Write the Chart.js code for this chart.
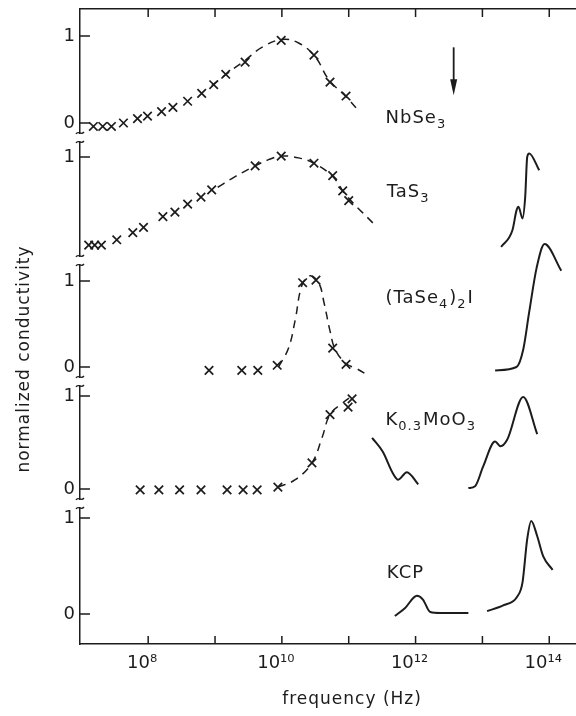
<!DOCTYPE html>
<html>
<head>
<meta charset="utf-8">
<script src="https://cdn.jsdelivr.net/npm/chart.js@4.4.1/dist/chart.umd.min.js"></script>
<style>
  html, body { margin: 0; padding: 0; background: #fff; }
  #wrap { width: 576px; height: 716px; position: relative; }
</style>
</head>
<body>
<div id="wrap"><canvas id="cdwChart"></canvas></div>
<script>
// x values are log10(frequency / Hz), y values are normalized conductivity

// NbSe3
const nbse3Freq = [7.18, 7.32, 7.45, 7.63, 7.84, 7.99, 8.20, 8.37, 8.59, 8.80, 8.98, 9.16, 9.45, 9.99, 10.48, 10.72, 10.96];
const nbse3Cond = [-0.04, -0.04, -0.04, 0.0, 0.05, 0.08, 0.13, 0.18, 0.25, 0.34, 0.44, 0.56, 0.70, 0.95, 0.78, 0.47, 0.31];
const nbse3FitFreq = [8.95, 9.2, 9.45, 9.7, 10.0, 10.25, 10.5, 10.7, 10.95, 11.14];
const nbse3FitCond = [0.43, 0.58, 0.72, 0.87, 0.96, 0.92, 0.76, 0.50, 0.31, 0.15];

// TaS3
const tas3Freq = [7.11, 7.20, 7.30, 7.53, 7.77, 7.93, 8.22, 8.40, 8.59, 8.79, 8.95, 9.60, 9.99, 10.48, 10.76, 10.91, 11.00];
const tas3Cond = [0.01, 0.01, 0.01, 0.07, 0.15, 0.21, 0.33, 0.38, 0.47, 0.55, 0.63, 0.90, 1.01, 0.93, 0.79, 0.62, 0.51];
const tas3FitFreq = [9.04, 9.3, 9.6, 9.8, 9.99, 10.25, 10.48, 10.76, 10.96, 11.36];
const tas3FitCond = [0.66, 0.78, 0.90, 0.97, 1.01, 0.99, 0.93, 0.78, 0.57, 0.26];
const tas3IrFreq = [13.28, 13.45, 13.51, 13.54, 13.60, 13.64, 13.67, 13.70, 13.85];
const tas3IrCond = [-0.01, 0.18, 0.40, 0.44, 0.31, 0.55, 1.00, 1.04, 0.85];

// (TaSe4)2I
const tase4Freq = [8.91, 9.40, 9.64, 9.93, 10.31, 10.51, 10.76, 10.96];
const tase4Cond = [-0.04, -0.04, -0.04, 0.02, 0.98, 1.01, 0.22, 0.03];
const tase4FitFreq = [9.95, 10.1, 10.2, 10.3, 10.42, 10.55, 10.63, 10.72, 10.8, 10.96, 11.12, 11.3];
const tase4FitCond = [0.0, 0.22, 0.55, 0.95, 1.06, 0.98, 0.75, 0.42, 0.2, 0.04, -0.02, -0.1];
const tase4IrFreq = [13.19, 13.51, 13.61, 13.70, 13.81, 13.93, 14.18];
const tase4IrCond = [-0.04, 0.0, 0.2, 0.64, 1.15, 1.43, 1.12];

// K0.3MoO3
const kmoo3Freq = [7.88, 8.16, 8.47, 8.79, 9.18, 9.42, 9.63, 9.94, 10.45, 10.72, 10.99, 11.05];
const kmoo3Cond = [-0.01, -0.01, -0.01, -0.01, -0.01, -0.01, -0.01, 0.02, 0.28, 0.80, 0.88, 0.97];
const kmoo3FitFreq = [9.94, 10.2, 10.45, 10.6, 10.72, 10.9, 11.05];
const kmoo3FitCond = [0.02, 0.1, 0.28, 0.55, 0.80, 0.92, 1.0];
const kmoo3FarFreq = [11.35, 11.51, 11.66, 11.74, 11.87, 12.04];
const kmoo3FarCond = [0.55, 0.40, 0.17, 0.10, 0.18, 0.05];
const kmoo3IrFreq = [12.79, 12.89, 13.01, 13.19, 13.27, 13.37, 13.61, 13.82];
const kmoo3IrCond = [0.01, 0.03, 0.24, 0.51, 0.46, 0.53, 0.99, 0.59];

// KCP
const kcpFarFreq = [11.69, 11.84, 12.02, 12.11, 12.22, 12.37, 12.79];
const kcpFarCond = [-0.02, 0.06, 0.19, 0.15, 0.02, 0.01, 0.01];
const kcpIrFreq = [13.07, 13.31, 13.52, 13.60, 13.67, 13.73, 13.82, 13.91, 14.05];
const kcpIrCond = [0.03, 0.09, 0.18, 0.33, 0.78, 0.97, 0.81, 0.60, 0.46];

const panelNames = ["NbSe_3", "TaS_3", "(TaSe_4)_2I", "K_{0.3}MoO_3", "KCP"];

const xTickValues = [8, 9, 10, 11, 12, 13, 14];
const xTickLabels = ["10⁸", "", "10¹⁰", "", "10¹²", "", "10¹⁴"];

const yTickPanel = [0, 0, 1, 2, 2, 3, 3, 4, 4];
const yTickValue = [1, 0, 1, 1, 0, 1, 0, 1, 0];
const yTickLabels = ["1", "0", "1", "1", "0", "1", "0", "1", "0"];

// layout of the stacked panels on the shared y axis (0..635)
const panels = [
  { base: 521, unit: 87 },
  { base: 398, unit: 89 },
  { base: 277, unit: 86 },
  { base: 155, unit: 93 },
  { base: 30, unit: 96 }
];
const labelPos = [[11.55, 0.0], [11.57, 0.55], [11.55, 0.74], [11.55, 0.69], [11.57, 0.375]];

const INK = "#1c1c1c";
const FONT = "'DejaVu Sans', sans-serif";

function pts(xs, vs, p) {
  return xs.map((x, i) => ({ x: x, y: panels[p].base + vs[i] * panels[p].unit }));
}

function crosses(xs, vs, p) {
  return {
    data: pts(xs, vs, p), showLine: false, pointStyle: "crossRot",
    pointRadius: 6, pointBorderWidth: 1.7, borderColor: INK, backgroundColor: INK
  };
}
function dashed(xs, vs, p) {
  return {
    data: pts(xs, vs, p), showLine: true, pointRadius: 0, borderColor: INK,
    borderWidth: 1.5, borderDash: [8, 6], tension: 0.4
  };
}
function solid(xs, vs, p) {
  return {
    data: pts(xs, vs, p), showLine: true, pointRadius: 0, borderColor: INK,
    borderWidth: 2, cubicInterpolationMode: "monotone"
  };
}

function drawRich(ctx, text, x, y, size) {
  const re = /_\{([^}]*)\}|_(.)|([^_]+)/g;
  let m;
  ctx.textAlign = "left";
  ctx.textBaseline = "alphabetic";
  while ((m = re.exec(text)) !== null) {
    if (m[3]) {
      ctx.font = size + "px " + FONT;
      ctx.fillText(m[3], x, y);
      x += ctx.measureText(m[3]).width;
    } else {
      const s = m[1] || m[2];
      ctx.font = Math.round(size * 0.72) + "px " + FONT;
      ctx.fillText(s, x, y + size * 0.28);
      x += ctx.measureText(s).width + 1;
    }
  }
}

const decor = {
  id: "decor",
  afterDraw(chart) {
    const { ctx, chartArea: a, scales } = chart;
    const xs = scales.x, ys = scales.y;
    ctx.save();
    ctx.strokeStyle = INK;
    ctx.fillStyle = INK;
    ctx.lineWidth = 1.5;

    // inward ticks
    ctx.beginPath();
    xs.ticks.forEach(t => {
      const px = xs.getPixelForValue(t.value);
      ctx.moveTo(px, a.bottom); ctx.lineTo(px, a.bottom - 8);
      ctx.moveTo(px, a.top); ctx.lineTo(px, a.top + 8);
    });
    ys.ticks.forEach(t => {
      const py = ys.getPixelForValue(t.value);
      ctx.moveTo(a.left, py); ctx.lineTo(a.left + 10, py);
    });
    ctx.stroke();

    // axis breaks between panels
    for (let p = 0; p < 4; p++) {
      const y1 = ys.getPixelForValue(panels[p].base - 10);
      const y2 = ys.getPixelForValue(panels[p].base - 19);
      ctx.fillStyle = "#fff";
      ctx.fillRect(a.left - 3, y1 + 1, 6, y2 - y1 - 2);
      ctx.fillStyle = INK;
      ctx.lineWidth = 1.3;
      [y1, y2].forEach(yy => {
        ctx.beginPath();
        ctx.moveTo(a.left - 4, yy + 1);
        ctx.bezierCurveTo(a.left - 2, yy - 3, a.left + 1, yy + 3, a.left + 4, yy - 1);
        ctx.stroke();
      });
    }

    // compound labels
    ctx.fillStyle = INK;
    if ("letterSpacing" in ctx) ctx.letterSpacing = "1px";
    panelNames.forEach((name, p) => {
      const px = xs.getPixelForValue(labelPos[p][0]);
      const py = ys.getPixelForValue(panels[p].base + labelPos[p][1] * panels[p].unit);
      drawRich(ctx, name, px, py, 18);
    });

    // arrow over NbSe3
    const ax = xs.getPixelForValue(12.57);
    const ay1 = ys.getPixelForValue(panels[0].base + 0.87 * panels[0].unit);
    const ay2 = ys.getPixelForValue(panels[0].base + 0.32 * panels[0].unit);
    ctx.lineWidth = 1.8;
    ctx.beginPath();
    ctx.moveTo(ax, ay1); ctx.lineTo(ax, ay2 - 10);
    ctx.stroke();
    ctx.beginPath();
    ctx.moveTo(ax - 3.5, ay2 - 16); ctx.lineTo(ax + 3.5, ay2 - 16); ctx.lineTo(ax, ay2);
    ctx.closePath(); ctx.fill();

    // axis titles
    ctx.font = "17px " + FONT;
    ctx.textAlign = "center";
    ctx.textBaseline = "middle";
    ctx.fillText("frequency (Hz)", xs.getPixelForValue(11.05), 700);
    ctx.translate(25, 359);
    ctx.rotate(-Math.PI / 2);
    ctx.fillText("normalized conductivity", 0, 0);
    ctx.restore();
  }
};

const noPad = s => { s.paddingLeft = 0; s.paddingRight = 0; s.paddingTop = 0; s.paddingBottom = 0; };

const ctx = document.getElementById("cdwChart").getContext("2d");
const cdwChart = new Chart(ctx, {
  type: "scatter",
  data: {
    datasets: [
      crosses(nbse3Freq, nbse3Cond, 0), dashed(nbse3FitFreq, nbse3FitCond, 0),
      crosses(tas3Freq, tas3Cond, 1), dashed(tas3FitFreq, tas3FitCond, 1), solid(tas3IrFreq, tas3IrCond, 1),
      crosses(tase4Freq, tase4Cond, 2), dashed(tase4FitFreq, tase4FitCond, 2), solid(tase4IrFreq, tase4IrCond, 2),
      crosses(kmoo3Freq, kmoo3Cond, 3), dashed(kmoo3FitFreq, kmoo3FitCond, 3),
      solid(kmoo3FarFreq, kmoo3FarCond, 3), solid(kmoo3IrFreq, kmoo3IrCond, 3),
      solid(kcpFarFreq, kcpFarCond, 4), solid(kcpIrFreq, kcpIrCond, 4)
    ]
  },
  options: {
    responsive: true,
    maintainAspectRatio: false,
    animation: false,
    layout: { padding: 0, autoPadding: false },
    plugins: { legend: { display: false }, tooltip: { enabled: false } },
    scales: {
      x: {
        type: "linear", position: "bottom", min: 6.98, max: 14.4,
        afterBuildTicks: s => { s.ticks = xTickValues.map(v => ({ value: v })); },
        afterFit: s => { s.height = 72; noPad(s); },
        grid: { display: false, drawTicks: false },
        border: { display: true, color: INK, width: 1.5 },
        ticks: {
          color: INK, padding: 9, labelOffset: -6, maxRotation: 0, autoSkip: false,
          font: { family: FONT, size: 18 },
          callback: (v, i) => xTickLabels[i]
        }
      },
      x2: {
        type: "linear", position: "top", min: 6.98, max: 14.4,
        afterFit: s => { s.height = 9; noPad(s); },
        grid: { display: false, drawTicks: false },
        border: { display: true, color: INK, width: 1.5 },
        ticks: { display: false }
      },
      y: {
        type: "linear", min: 0, max: 635,
        afterBuildTicks: s => {
          s.ticks = yTickValue.map((v, i) => ({ value: panels[yTickPanel[i]].base + v * panels[yTickPanel[i]].unit }));
        },
        afterFit: s => { s.width = 80; noPad(s); },
        grid: { display: false, drawTicks: false },
        border: { display: true, color: INK, width: 1.5 },
        ticks: {
          color: INK, padding: 5, autoSkip: false,
          font: { family: FONT, size: 18 },
          callback: (v, i) => yTickLabels[i]
        }
      }
    }
  },
  plugins: [decor]
});
</script>
</body>
</html>
